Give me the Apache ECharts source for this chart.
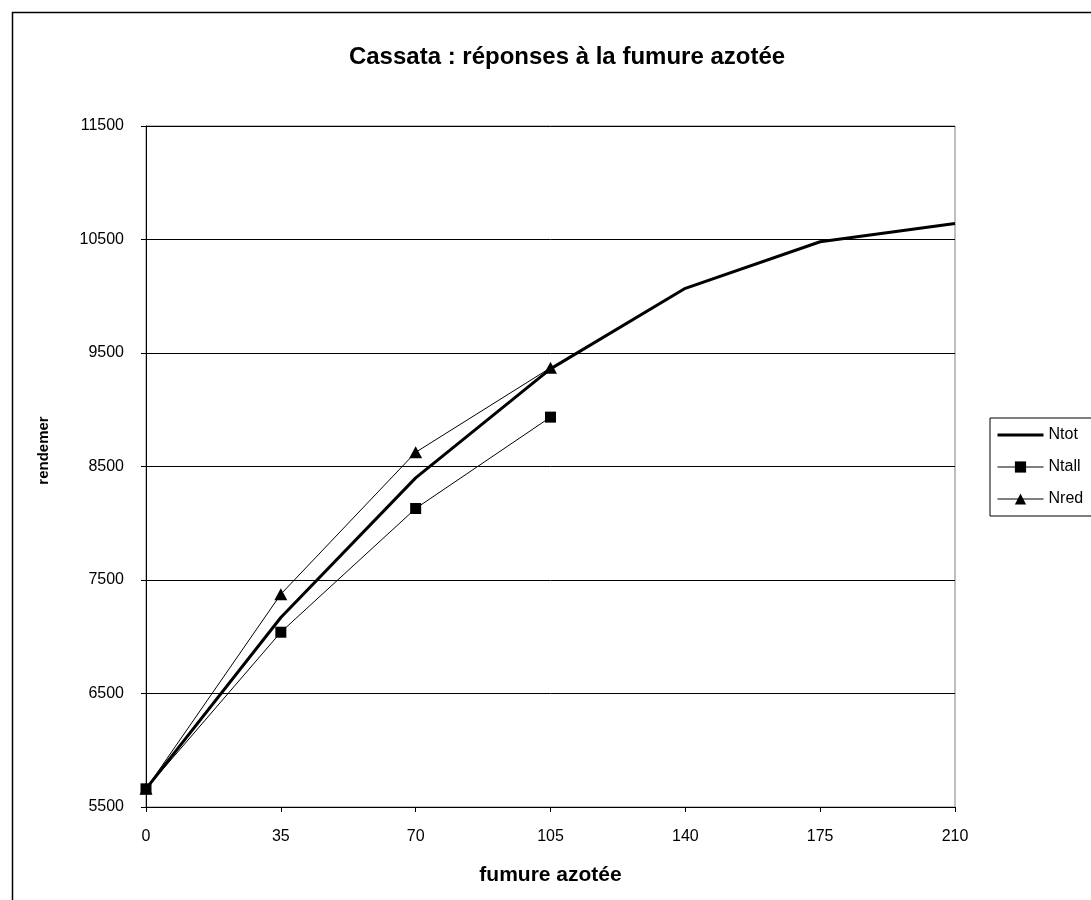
<!DOCTYPE html>
<html>
<head>
<meta charset="utf-8">
<script src="https://cdn.jsdelivr.net/npm/echarts@6/dist/echarts.min.js"></script>
<style>
  html, body { margin: 0; padding: 0; background: #fff; }
  #chart { width: 1091px; height: 900px; }
</style>
</head>
<body>
<div id="chart"></div>
<script>
// données
const doses = [0, 35, 70, 105, 140, 175, 210];
const nTot = [5660, 7170, 8400, 9360, 10070, 10480, 10640];
const nTall = [5660, 7040, 8130, 8935];
const nRed = [5660, 7375, 8625, 9370];
const xTicks = [0, 35, 70, 105, 140, 175, 210];
const yTicks = [5500, 6500, 7500, 8500, 9500, 10500, 11500];

const pairs = (vals) => vals.map((v, i) => [doses[i], v]);

const chart = echarts.init(document.getElementById('chart'));
const font = '"Liberation Sans", Arial, sans-serif';

const option = {
  backgroundColor: '#fff',
  animation: false,
  textStyle: { fontFamily: font, color: '#000' },
  // cadre extérieur (coupé à droite et en bas)
  graphic: [
    {
      type: 'rect',
      left: 10,
      top: 10,
      shape: { x: 0, y: 0, width: 1300, height: 1100 },
      style: { fill: 'none', stroke: '#000', lineWidth: 1.5 },
      silent: true,
    },
  ],
  title: {
    text: 'Cassata : réponses à la fumure azotée',
    left: 562,
    top: 40,
    textAlign: 'center',
    textStyle: { fontFamily: font, fontWeight: 'bold', fontSize: 24, color: '#000' },
  },
  legend: {
    orient: 'vertical',
    left: 990,
    top: 418,
    borderColor: '#000',
    borderWidth: 1,
    borderRadius: 0,
    padding: [9, 60, 9, 6],
    itemWidth: 46,
    itemHeight: 14,
    itemGap: 16,
    textStyle: { fontFamily: font, fontSize: 16, color: '#000' },
    data: [
      { name: 'Ntot', itemStyle: { color: 'transparent', borderWidth: 0 }, lineStyle: { width: 3, color: '#000' } },
      { name: 'Ntall', lineStyle: { width: 1, color: '#000' } },
      { name: 'Nred', lineStyle: { width: 1, color: '#000' } },
    ],
  },
  grid: {
    left: 146,
    right: 136,
    top: 126,
    bottom: 93,
    show: true,
    borderColor: '#808080',
    borderWidth: 1,
    containLabel: false,
  },
  xAxis: {
    type: 'value',
    min: xTicks[0],
    max: xTicks[xTicks.length - 1],
    interval: 35,
    name: 'fumure azotée',
    nameLocation: 'middle',
    nameGap: 58,
    nameTextStyle: { fontFamily: font, fontWeight: 'bold', fontSize: 21, color: '#000' },
    axisLine: { lineStyle: { color: '#000', width: 1 } },
    axisTick: { show: true, length: 5, lineStyle: { color: '#000' } },
    axisLabel: { color: '#000', fontSize: 16, margin: 22, fontFamily: font },
    splitLine: { show: false },
  },
  yAxis: {
    type: 'value',
    min: yTicks[0],
    max: yTicks[yTicks.length - 1],
    interval: 1000,
    name: 'rendemer',
    nameLocation: 'middle',
    nameGap: 95,
    nameTextStyle: { fontFamily: font, fontWeight: 'bold', fontSize: 15, color: '#000', padding: [0, 0, 0, 32] },
    axisLine: { show: true, lineStyle: { color: '#000', width: 1 } },
    axisTick: { show: true, length: 5, lineStyle: { color: '#000' } },
    axisLabel: { color: '#000', fontSize: 16, margin: 22, fontFamily: font, formatter: (v) => String(v) },
    splitLine: { show: true, lineStyle: { color: '#000', width: 1 } },
  },
  series: [
    {
      name: 'Ntot',
      type: 'line',
      data: pairs(nTot),
      symbol: 'none',
      lineStyle: { color: '#000', width: 3 },
      itemStyle: { color: '#000' },
      z: 3,
    },
    {
      name: 'Ntall',
      type: 'line',
      data: pairs(nTall),
      symbol: 'rect',
      symbolSize: 11,
      lineStyle: { color: '#000', width: 1 },
      itemStyle: { color: '#000' },
      z: 4,
    },
    {
      name: 'Nred',
      type: 'line',
      data: pairs(nRed),
      symbol: 'triangle',
      symbolSize: [13, 12],
      lineStyle: { color: '#000', width: 1 },
      itemStyle: { color: '#000' },
      z: 5,
    },
  ],
};

chart.setOption(option);
</script>
</body>
</html>
